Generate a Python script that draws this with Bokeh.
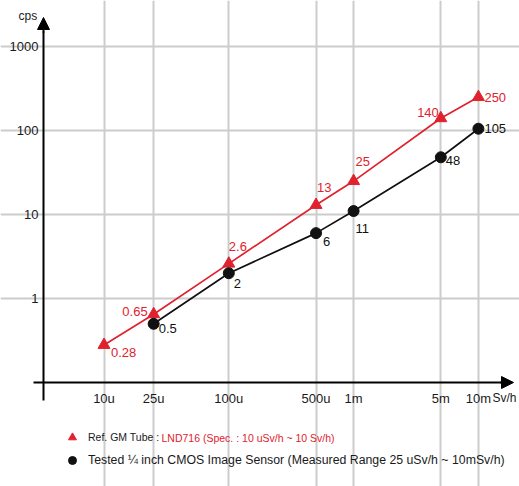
from bokeh.plotting import figure
from bokeh.models import (FixedTicker, CustomJSTickFormatter, Arrow, NormalHead, Label,
                          Legend, LegendItem, ColumnDataSource, Range1d)
from bokeh.embed import file_html
from bokeh.resources import INLINE
from bokeh.core.properties import value

# ---------------- data ----------------
dose_labels = ["10u", "25u", "100u", "500u", "1m", "5m", "10m"]
doses = [10e-6, 25e-6, 100e-6, 500e-6, 1e-3, 5e-3, 10e-3]

gm_cps = [0.28, 0.65, 2.6, 13, 25, 140, 250]
gm_labels = ["0.28", "0.65", "2.6", "13", "25", "140", "250"]

cmos_doses = [25e-6, 100e-6, 500e-6, 1e-3, 5e-3, 10e-3]
cmos_cps = [0.5, 2, 6, 11, 48, 105]
cmos_labels = ["0.5", "2", "6", "11", "48", "105"]

y_ticks = [1, 10, 100, 1000]
y_tick_labels = ["1", "10", "100", "1000"]

legend_gm = "Ref. GM Tube :"
legend_gm_spec = "LND716 (Spec. : 10 uSv/h ~ 10 Sv/h)"
legend_cmos = "Tested \u00bc inch CMOS Image Sensor (Measured Range 25 uSv/h ~ 10mSv/h)"

# ---------------- layout (pixels) ----------------
W, H = 519, 486
FONT = "Liberation Sans"
RED = "#e0222e"
BLACK = "#111111"
TXT = "#1a1a1a"

def xv(px):  # px from left -> dose value on log axis
    return 10 ** (-5 + (px - 103.5) / 124.8)

def yv(py):  # px from top -> cps value on log axis
    return 10 ** (-1 + (382 - py) / 84.0)

# label placement styles (pixel offsets from each point)
gm_dx = [7, -6, 0, 1, 2, -2, 6]
gm_dy = [8, -3, -17, -17, -20, -6, 0]
gm_align = ["left", "right", "left", "left", "left", "right", "left"]
cmos_dx = [5, 5, 7, 2, 5, 6]
cmos_dy = [5, 10, 8, 17, 3, 0]

p = figure(width=W, height=H, x_axis_type="log", y_axis_type="log",
           x_range=Range1d(xv(0), xv(W)), y_range=Range1d(yv(H), yv(0)),
           output_backend="svg", toolbar_location=None, min_border=0,
           outline_line_color=None)
p.background_fill_color = "white"
p.border_fill_color = "white"

y_axis_x = xv(43)
x_axis_y = y_ticks[0] / 10

# grids
p.xgrid.ticker = FixedTicker(ticks=doses, minor_ticks=[])
p.ygrid.ticker = FixedTicker(ticks=y_ticks, minor_ticks=[])
p.xgrid.bounds = (x_axis_y, y_ticks[-1])
p.ygrid.bounds = (y_axis_x, doses[-1])
for g in (p.xgrid, p.ygrid):
    g.grid_line_color = "#cccccc"
    g.grid_line_width = 2

# axes
p.xaxis.fixed_location = x_axis_y
p.yaxis.fixed_location = y_axis_x
p.xaxis.bounds = (xv(33), xv(501))
p.yaxis.bounds = (yv(400), yv(31))
p.xaxis.ticker = FixedTicker(ticks=doses, minor_ticks=[])
p.yaxis.ticker = FixedTicker(ticks=y_ticks, minor_ticks=[])
p.xaxis.formatter = CustomJSTickFormatter(args=dict(vals=doses, labs=dose_labels), code="""
const i = vals.findIndex(v => Math.abs(Math.log10(v) - Math.log10(tick)) < 1e-6);
return i >= 0 ? labs[i] : "";
""")
p.yaxis.formatter = CustomJSTickFormatter(args=dict(vals=y_ticks, labs=y_tick_labels), code="""
const i = vals.findIndex(v => Math.abs(Math.log10(v) - Math.log10(tick)) < 1e-6);
return i >= 0 ? labs[i] : "";
""")
for ax in (p.xaxis, p.yaxis):
    ax.axis_line_width = 2
    ax.axis_line_color = "black"
    ax.major_tick_out = 0
    ax.major_tick_in = 0
    ax.minor_tick_out = 0
    ax.minor_tick_in = 0
    ax.major_label_text_font = FONT
    ax.major_label_text_font_size = "13px"
    ax.major_label_text_color = TXT
p.xaxis.major_label_standoff = 8
p.yaxis.major_label_standoff = 5

# axis arrow heads
p.add_layout(Arrow(end=NormalHead(size=12, fill_color="black", line_color="black"),
                   x_start=xv(500), y_start=x_axis_y, x_end=xv(513), y_end=x_axis_y,
                   line_width=2, line_color="black"))
p.add_layout(Arrow(end=NormalHead(size=12, fill_color="black", line_color="black"),
                   x_start=y_axis_x, y_start=yv(32), x_end=y_axis_x, y_end=yv(17),
                   line_width=2, line_color="black"))

# axis titles
p.add_layout(Label(x=18, y=H - 15, x_units="screen", y_units="screen", text="cps",
                   text_font=FONT, text_font_size="12px", text_baseline="middle",
                   text_color=TXT))
p.add_layout(Label(x=492, y=H - 397, x_units="screen", y_units="screen", text="Sv/h",
                   text_font=FONT, text_font_size="12px", text_baseline="middle",
                   text_color=TXT))

# series
p.line(doses, gm_cps, line_color=RED, line_width=1.7)
p.line(cmos_doses, cmos_cps, line_color=BLACK, line_width=1.7)
r_gm = p.scatter(doses, gm_cps, marker="triangle", size=12, fill_color=RED, line_color=RED)
r_cmos = p.scatter(cmos_doses, cmos_cps, marker="circle", size=11, fill_color=BLACK, line_color=BLACK)

gm_src = ColumnDataSource(dict(x=doses, y=gm_cps, t=gm_labels, dx=gm_dx, dy=gm_dy, a=gm_align))
p.text(x="x", y="y", text="t", x_offset="dx", y_offset="dy", text_align="a", source=gm_src,
       text_baseline="middle", text_color=RED, text_font=value(FONT), text_font_size="13px")
cmos_src = ColumnDataSource(dict(x=cmos_doses, y=cmos_cps, t=cmos_labels, dx=cmos_dx, dy=cmos_dy))
p.text(x="x", y="y", text="t", x_offset="dx", y_offset="dy", source=cmos_src,
       text_align="left", text_baseline="middle", text_color=BLACK,
       text_font=value(FONT), text_font_size="13px")

# legend (two rows with different text sizes)
common = dict(orientation="vertical", padding=0, margin=0, spacing=0,
              glyph_width=20, glyph_height=20, label_standoff=6,
              label_text_font=FONT, label_text_color=TXT,
              border_line_alpha=0, background_fill_alpha=0)
p.add_layout(Legend(items=[LegendItem(label=legend_gm, renderers=[r_gm])],
                    location=(62, H - 447), label_text_font_size="10.5px", **common))
p.add_layout(Legend(items=[LegendItem(label=legend_cmos, renderers=[r_cmos])],
                    location=(62, H - 470), label_text_font_size="12.3px", **common))
p.add_layout(Label(x=161, y=H - 437, x_units="screen", y_units="screen", text=legend_gm_spec,
                   text_font=FONT, text_font_size="10.5px", text_baseline="middle",
                   text_color=RED))

open("out.html", "w").write(file_html(p, INLINE))
